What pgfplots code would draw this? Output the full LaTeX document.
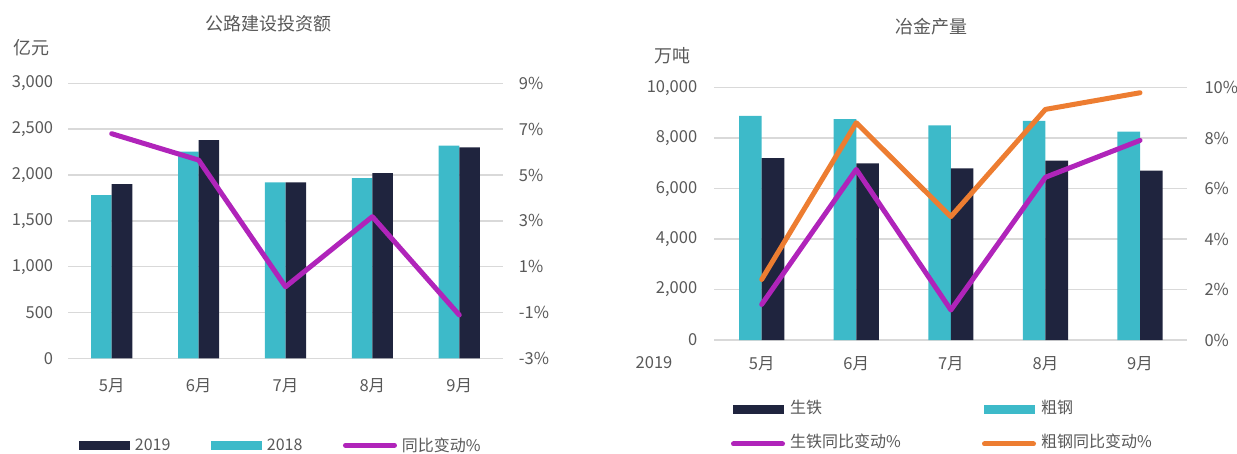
\documentclass[border=0pt]{standalone}
\usepackage{fontspec}
\setmainfont{Noto Sans CJK SC}
\usepackage{pgfplots}
\pgfplotsset{compat=1.18}

\definecolor{navy}{HTML}{1F243E}
\definecolor{cteal}{HTML}{3DBAC9}
\definecolor{cpurple}{HTML}{B024BA}
\definecolor{corange}{HTML}{ED7D31}
\definecolor{cgrid}{HTML}{D9D9D9}
\definecolor{ctext}{HTML}{595959}

\pgfplotsset{
  base/.style={
    scale only axis, anchor=south west, clip=false,
    xmin=-0.5, xmax=4.5,
    axis line style={draw=none}, tick style={draw=none}, major tick length=0pt,
    scaled y ticks=false,
    /pgf/number format/assume math mode=true,
    /pgf/number format/1000 sep={,},
    tick label style={font=\fontsize{16.5}{19}\selectfont, text=ctext, inner sep=0pt},
  },
  barleg/.style={legend image code/.code={\fill[##1, draw=none] (0pt,-4.5pt) rectangle (51pt,4.5pt);}},
  lineleg/.style={legend image code/.code={\draw[##1, line width=5pt, line cap=round] (1pt,0pt) -- (50pt,0pt);}},
}

\begin{document}
\begin{tikzpicture}
\useasboundingbox (0pt,0pt) rectangle (1237pt,453pt);

% ---- left: 公路建设投资额
\begin{axis}[base, at={(68.3pt,94.7pt)}, width=434.4pt, height=275pt,
  ymin=0, ymax=3000, ytick={0,500,...,3000},
  ymajorgrids, grid style={cgrid, line width=1.5pt},
  xtick={0,...,4}, xticklabels={5月,6月,7月,8月,9月},
  xticklabel style={anchor=center, yshift=-27pt},
  yticklabel style={anchor=east, xshift=-15pt},
  ybar, bar width=20.6pt]
\addplot[fill=cteal, draw=none, bar shift=-10.3pt] coordinates {(0,1780)(1,2255)(2,1920)(3,1965)(4,2320)};
\addplot[fill=navy, draw=none, bar shift=10.3pt] coordinates {(0,1900)(1,2380)(2,1920)(3,2020)(4,2300)};
\end{axis}
\begin{axis}[base, at={(68.3pt,94.7pt)}, width=434.4pt, height=275pt,
  axis y line*=right, axis x line=none,
  ymin=-3, ymax=9, ytick={-3,-1,...,9},
  yticklabel={\pgfmathprintnumber{\tick}\%},
  yticklabel style={anchor=west, xshift=16pt},
  legend columns=3,
  legend style={at={(0.0246,-0.316)}, anchor=west, draw=none, fill=none,
    inner sep=0pt, outer sep=0pt, font=\fontsize{16}{19}\selectfont, text=ctext,
    nodes={text width=71pt, inner xsep=5pt, inner ysep=0pt, align=left}}]
\addlegendimage{barleg, fill=navy}
\addlegendentry{2019}
\addlegendimage{barleg, fill=cteal}
\addlegendentry{2018}
\addplot[lineleg, cpurple, line width=5pt, line join=round, line cap=round] coordinates {(0,6.8)(1,5.65)(2,0.12)(3,3.18)(4,-1.11)};
\addlegendentry{同比变动\%}
\end{axis}

% ---- right: 冶金产量
\begin{axis}[base, at={(714.4pt,113pt)}, width=472.9pt, height=252.3pt,
  ymin=0, ymax=10000, ytick={0,2000,...,10000},
  ymajorgrids, grid style={cgrid, line width=1.5pt},
  xtick={0,...,4}, xticklabels={5月,6月,7月,8月,9月},
  xticklabel style={anchor=center, yshift=-24pt},
  yticklabel style={anchor=east, xshift=-17pt},
  ybar, bar width=22.6pt]
\addplot[fill=cteal, draw=none, bar shift=-11.3pt] coordinates {(0,8880)(1,8750)(2,8510)(3,8690)(4,8260)};
\addplot[fill=navy, draw=none, bar shift=11.3pt] coordinates {(0,7210)(1,7000)(2,6800)(3,7110)(4,6710)};
\end{axis}
\begin{axis}[base, at={(714.4pt,113pt)}, width=472.9pt, height=252.3pt,
  axis y line*=right, axis x line=none,
  ymin=0, ymax=10, ytick={0,2,...,10},
  yticklabel={\pgfmathprintnumber{\tick}\%},
  yticklabel style={anchor=west, xshift=17pt},
  legend columns=2,
  legend style={at={(0.0351,-0.3448)}, anchor=west, draw=none, fill=none,
    inner sep=0pt, outer sep=0pt, row sep=18pt, font=\fontsize{16}{19}\selectfont, text=ctext,
    nodes={text width=187pt, text height=12pt, text depth=4pt, inner xsep=5pt, inner ysep=0pt, align=left}}]
\addlegendimage{barleg, fill=navy}
\addlegendentry{生铁}
\addlegendimage{barleg, fill=cteal}
\addlegendentry{粗钢}
\addplot[lineleg, cpurple, line width=5pt, line join=round, line cap=round] coordinates {(0,1.41)(1,6.76)(2,1.19)(3,6.45)(4,7.91)};
\addlegendentry{生铁同比变动\%}
\addplot[lineleg, corange, line width=5pt, line join=round, line cap=round] coordinates {(0,2.40)(1,8.61)(2,4.89)(3,9.14)(4,9.80)};
\addlegendentry{粗钢同比变动\%}
\end{axis}

% ---- titles and unit labels
\node[text=ctext, font=\fontsize{18}{21}\selectfont] at (268pt,429pt) {公路建设投资额};
\node[text=ctext, font=\fontsize{18}{21}\selectfont] at (31pt,405pt) {亿元};
\node[text=ctext, font=\fontsize{18}{21}\selectfont] at (931pt,426pt) {冶金产量};
\node[text=ctext, font=\fontsize{18}{21}\selectfont] at (672pt,397pt) {万吨};
\node[text=ctext, font=\fontsize{16.5}{19}\selectfont] at (654pt,90pt) {2019};
\end{tikzpicture}
\end{document}
